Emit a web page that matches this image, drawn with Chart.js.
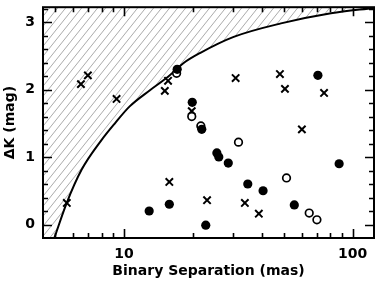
<!DOCTYPE html>
<html>
<head>
<meta charset="utf-8">
<script src="https://cdn.jsdelivr.net/npm/chart.js@4/dist/chart.umd.min.js"></script>
<style>
  html, body { margin: 0; padding: 0; background: #fff; }
  #wrap { width: 382px; height: 284px; }
</style>
</head>
<body>
<div id="wrap"><canvas id="sepchart"></canvas></div>
<script>
// detection limit curve (mas, mag)
const curveSep = [4.43, 4.99, 5.61, 6.53, 7.98, 9.14, 10.6, 13.0, 15.6, 18.2, 21.5, 30.2, 48.6, 80.4, 124];
const curveDK  = [-0.69, -0.18, 0.31, 0.81, 1.25, 1.50, 1.75, 1.99, 2.19, 2.39, 2.54, 2.78, 2.98, 3.13, 3.21];

// filled circles
const filledSep = [17.1, 19.9, 21.9, 25.5, 26.0, 28.6, 34.8, 40.6, 55.6, 87.3, 70.5, 15.8, 12.9, 22.8];
const filledDK  = [2.30, 1.81, 1.41, 1.06, 1.00, 0.91, 0.60, 0.50, 0.29, 0.90, 2.21, 0.30, 0.20, -0.01];

// open circles
const openSep = [17.0, 19.8, 21.7, 31.7, 51.4, 64.6, 69.8];
const openDK  = [2.24, 1.60, 1.46, 1.22, 0.69, 0.17, 0.07];

// crosses
const crossSep = [5.63, 6.49, 6.96, 9.29, 15.1, 15.6, 15.8, 19.8, 23.1, 30.8, 33.8, 38.9, 48.1, 50.6, 60.0, 75.0];
const crossDK  = [0.32, 2.08, 2.21, 1.86, 1.98, 2.13, 0.63, 1.68, 0.36, 2.17, 0.32, 0.16, 2.23, 2.01, 1.41, 1.95];

// axis ticks
const xTickVals = [5, 6, 7, 8, 9, 10, 20, 30, 40, 50, 60, 70, 80, 90, 100];
const xLabelVals = [10, 100];
const yTickVals = [0, 0.2, 0.4, 0.6, 0.8, 1, 1.2, 1.4, 1.6, 1.8, 2, 2.2, 2.4, 2.6, 2.8, 3, 3.2];
const yLabelVals = [0, 1, 2, 3];

const pts = (xs, ys) => xs.map((v, i) => ({ x: v, y: ys[i] }));

function hatch() {
  const c = document.createElement('canvas');
  c.width = 8; c.height = 10;
  const g = c.getContext('2d');
  g.strokeStyle = '#969696';
  g.lineWidth = 0.8;
  g.beginPath();
  g.moveTo(0, 10); g.lineTo(8, 0);
  g.moveTo(-1, 1.25); g.lineTo(1, -1.25);
  g.moveTo(7, 11.25); g.lineTo(9, 8.75);
  g.stroke();
  return g.createPattern(c, 'repeat');
}

// ticks pointing into the plot on all four sides, plus the frame
const innerTicks = {
  id: 'innerTicks',
  afterDatasetsDraw(chart) {
    const { ctx, chartArea: a, scales: { x, y } } = chart;
    ctx.save();
    ctx.strokeStyle = '#000';
    ctx.lineWidth = 1.6;
    ctx.beginPath();
    xTickVals.forEach(v => {
      const px = Math.round(x.getPixelForValue(v)) + 0.5;
      const len = xLabelVals.includes(v) ? 9 : 5;
      ctx.moveTo(px, a.bottom); ctx.lineTo(px, a.bottom - len);
      ctx.moveTo(px, a.top); ctx.lineTo(px, a.top + len);
    });
    yTickVals.forEach(v => {
      const py = Math.round(y.getPixelForValue(v)) + 0.5;
      const len = yLabelVals.includes(v) ? 9 : 5;
      ctx.moveTo(a.left, py); ctx.lineTo(a.left + len, py);
      ctx.moveTo(a.right, py); ctx.lineTo(a.right - len, py);
    });
    ctx.stroke();
    ctx.lineWidth = 2;
    ctx.strokeRect(a.left, a.top, a.right - a.left, a.bottom - a.top);
    ctx.restore();
  }
};

const font = { family: 'DejaVu Sans', size: 14, weight: 'bold' };

new Chart(document.getElementById('sepchart'), {
  type: 'scatter',
  data: {
    datasets: [
      {
        data: pts(curveSep, curveDK),
        showLine: true,
        borderColor: '#000',
        borderWidth: 2,
        backgroundColor: hatch(),
        fill: 'end',
        pointRadius: 0,
        cubicInterpolationMode: 'monotone',
        order: 10
      },
      {
        data: pts(filledSep, filledDK),
        pointStyle: 'circle',
        pointRadius: 4.6,
        backgroundColor: '#000',
        borderColor: '#000',
        borderWidth: 0,
        order: 1
      },
      {
        data: pts(openSep, openDK),
        pointStyle: 'circle',
        pointRadius: 3.8,
        backgroundColor: '#fff',
        borderColor: '#000',
        borderWidth: 1.7,
        order: 2
      },
      {
        data: pts(crossSep, crossDK),
        pointStyle: 'crossRot',
        pointRadius: 5.2,
        borderColor: '#000',
        borderWidth: 2,
        order: 3
      }
    ]
  },
  options: {
    responsive: true,
    maintainAspectRatio: false,
    animation: false,
    devicePixelRatio: 1,
    layout: { padding: { left: 2, right: 8, top: 7, bottom: 4 } },
    plugins: { legend: { display: false }, tooltip: { enabled: false } },
    scales: {
      x: {
        type: 'logarithmic',
        min: 4.43,
        max: 124,
        afterBuildTicks: axis => { axis.ticks = xTickVals.map(v => ({ value: v })); },
        afterFit: axis => { axis.height = 42; axis.paddingLeft = 0; axis.paddingRight = 0; },
        grid: { display: false, drawTicks: false },
        border: { display: false },
        ticks: {
          autoSkip: false,
          maxRotation: 0,
          padding: 8,
          color: '#000',
          font: font,
          callback: v => xLabelVals.includes(v) ? String(v) : ''
        },
        title: { display: true, text: 'Binary Separation (mas)', color: '#000', font: font, padding: { top: 2, bottom: 0 } }
      },
      y: {
        min: -0.2,
        max: 3.22,
        afterBuildTicks: axis => { axis.ticks = yTickVals.map(v => ({ value: v })); },
        afterFit: axis => { axis.width = 41; axis.paddingTop = 0; axis.paddingBottom = 0; },
        grid: { display: false, drawTicks: false },
        border: { display: false },
        ticks: {
          autoSkip: false,
          padding: 8,
          color: '#000',
          font: font,
          callback: v => yLabelVals.includes(v) ? String(v) : ''
        },
        title: { display: true, text: 'ΔK (mag)', color: '#000', font: font, padding: { top: 0, bottom: 4 } }
      }
    }
  },
  plugins: [innerTicks]
});
</script>
</body>
</html>
